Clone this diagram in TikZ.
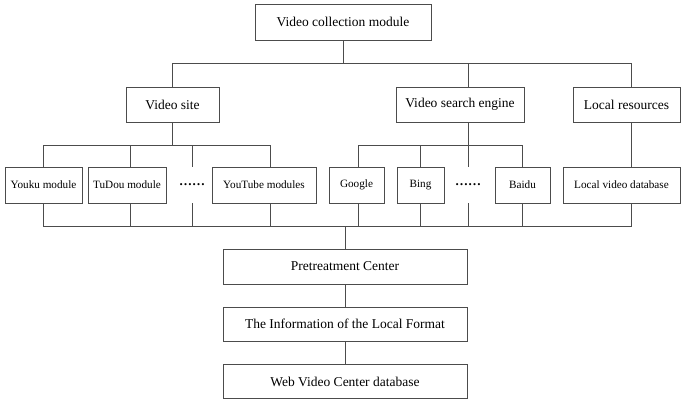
\documentclass[tikz,border=0pt]{standalone}
\usepackage{fontspec}
\setmainfont{Liberation Serif}
\begin{document}
\begin{tikzpicture}[x=1pt, y=-1pt]
\tikzset{
  box/.style={draw=black!70, line width=.8pt, minimum height=35pt, inner sep=0pt, font=\fontsize{13.5}{15}\selectfont},
  leaf/.style={box, minimum height=36pt, font=\fontsize{11.2}{13}\selectfont},
  gap/.style={minimum height=36pt, inner sep=0pt, font=\fontsize{13}{13}\selectfont\bfseries},
  wire/.style={draw=black!70, line width=.8pt}
}
\useasboundingbox (0,0) rectangle (682,400);

% top levels
\node[box, minimum width=176pt, minimum height=36pt] (vcm) at (343,22) {Video collection module};
\node[box, minimum width=93pt] (site) at (172.5,104.5) {Video site};
\node[box, minimum width=128pt] (engine) at (460,104.5) {Video search engine};
\node[box, minimum width=107pt] (local) at (626.5,104.5) {Local resources};

% leaves
\foreach \n/\x/\w/\t in {youku/43.5/77/Youku module, tudou/127/78/TuDou module, youtube/264/104/YouTube modules, google/356.5/55/Google, bing/420.5/47/Bing, baidu/522.5/55/Baidu, localdb/621.5/117/Local video database}
{
  \node[leaf, minimum width=\w pt] (\n) at (\x,185) {\t};
}
\node[gap] (dotsA) at (192,185) {……};
\node[gap] (dotsB) at (468,185) {……};

% bottom chain
\node[box, minimum width=244pt] (pre) at (345,266.5) {Pretreatment Center};
\node[box, minimum width=244pt, minimum height=34pt] (info) at (345,324) {The Information of the Local Format};
\node[box, minimum width=244pt, minimum height=34pt] (web) at (345,381.5) {Web Video Center database};

\coordinate (busA) at (0,63);
\coordinate (busB) at (0,145);
\coordinate (busD) at (0,226);

% first level bus
\draw[wire] (vcm.south) -- (vcm.south |- busA);
\draw[wire] (site.north) -- (site.north |- busA) -- ([xshift=4.5pt]local.north |- busA) -- ([xshift=4.5pt]local.north);
\draw[wire] ([xshift=8pt]engine.north) -- ([xshift=8pt]engine.north |- busA);

% video site
\draw[wire] (site.south) -- (site.south |- busB);
\draw[wire] (youku.north) -- (youku.north |- busB) -- ([xshift=6pt]youtube.north |- busB) -- ([xshift=6pt]youtube.north);
\draw[wire] ([xshift=3pt]tudou.north) -- ([xshift=3pt]tudou.north |- busB);
\draw[wire] (dotsA.north) -- (dotsA.north |- busB);

% search engine
\draw[wire] ([xshift=8pt]engine.south) -- (dotsB.north);
\draw[wire] ([xshift=1.5pt]google.north) -- ([xshift=1.5pt]google.north |- busB) -- (baidu.north |- busB) -- (baidu.north);
\draw[wire] (bing.north) -- (bing.north |- busB);

% local
\draw[wire] ([xshift=4.5pt]local.south) -- ([xshift=4.5pt]local.south |- localdb.north);

% bottom bus
\draw[wire] (youku.south) -- (youku.south |- busD) -- ([xshift=9.5pt]localdb.south |- busD) -- ([xshift=9.5pt]localdb.south);
\foreach \n/\d in {tudou/3, dotsA/0, youtube/6, google/1.5, bing/0, dotsB/0, baidu/0}
{
  \draw[wire] ([xshift=\d pt]\n.south) -- ([xshift=\d pt]\n.south |- busD);
}
\draw[wire] (pre.north |- busD) -- (pre.north);
\draw[wire] (pre) -- (info);
\draw[wire] (info) -- (web);

\end{tikzpicture}
\end{document}
